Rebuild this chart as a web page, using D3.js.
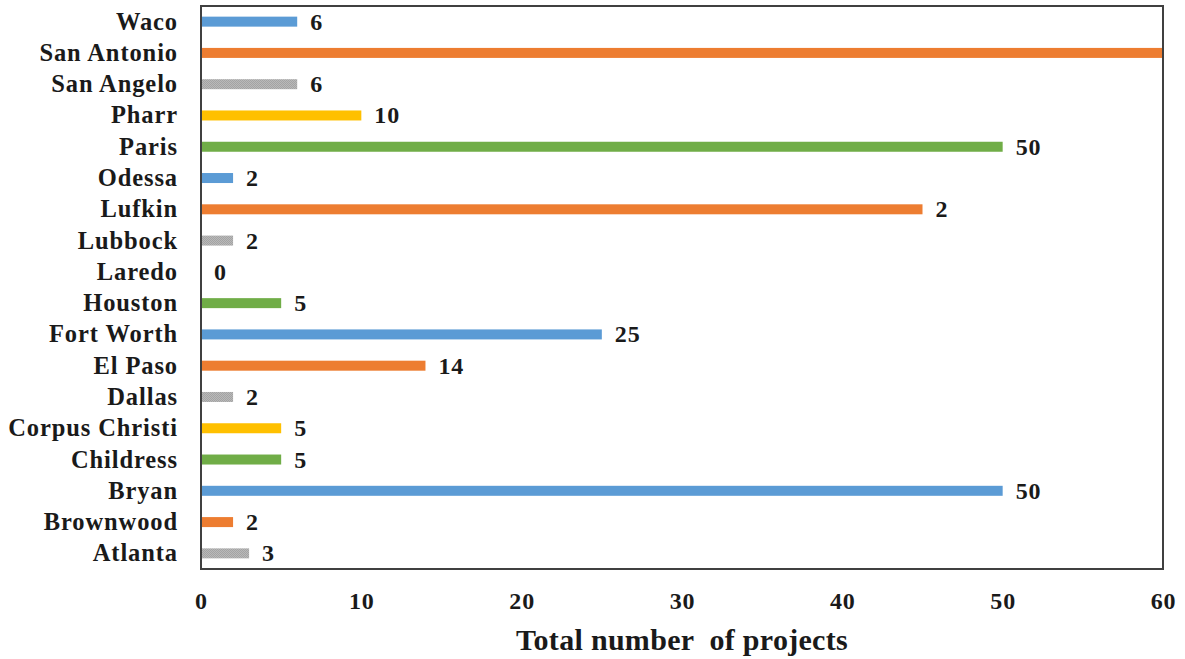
<!DOCTYPE html>
<html>
<head>
<meta charset="utf-8">
<script src="https://cdn.jsdelivr.net/npm/d3@7/dist/d3.min.js"></script>
<style>
  html, body { margin: 0; padding: 0; background: #fff; }
  svg { display: block; }
  text { font-family: "Liberation Serif", "Times New Roman", serif; font-weight: bold; fill: #1a1a1a; }
</style>
</head>
<body>
<svg id="chart" width="1185" height="659"></svg>
<script>
// Districts, top to bottom as drawn
const districts = ["Waco", "San Antonio", "San Angelo", "Pharr", "Paris", "Odessa", "Lufkin",
  "Lubbock", "Laredo", "Houston", "Fort Worth", "El Paso", "Dallas", "Corpus Christi",
  "Childress", "Bryan", "Brownwood", "Atlanta"];
// Bar lengths (total number of projects)
const projects = [6, 60, 6, 10, 50, 2, 45, 2, 0, 5, 25, 14, 2, 5, 5, 50, 2, 3];
// Value labels printed beside each bar (San Antonio has none inside the plot)
const valueLabels = ["6", null, "6", "10", "50", "2", "2", "2", "0", "5", "25", "14", "2", "5", "5", "50", "2", "3"];
// Bar fill per district
const barColors = ["#5b9bd5", "#ed7d31", "gray", "#ffc000", "#70ad47", "#5b9bd5", "#ed7d31",
  "gray", "#ffc000", "#70ad47", "#5b9bd5", "#ed7d31", "gray", "#ffc000",
  "#70ad47", "#5b9bd5", "#ed7d31", "gray"];
const xTicks = [0, 10, 20, 30, 40, 50, 60];
const xTitle = "Total number  of projects";

const svg = d3.select("#chart");
const margin = { left: 201, top: 6, right: 22, bottom: 90 };
const W = 1185, H = 659;
const pw = W - margin.left - margin.right;
const ph = H - margin.top - margin.bottom;
const serif = "'Liberation Serif', 'Times New Roman', serif";

// dithered grey fill
const defs = svg.append("defs");
const pat = defs.append("pattern").attr("id", "greyDots")
  .attr("width", 2).attr("height", 2).attr("patternUnits", "userSpaceOnUse");
pat.append("rect").attr("width", 2).attr("height", 2).attr("fill", "#a3a3a3");
pat.append("rect").attr("width", 1).attr("height", 1).attr("fill", "#b9b9b9");
pat.append("rect").attr("x", 1).attr("y", 1).attr("width", 1).attr("height", 1).attr("fill", "#b9b9b9");
defs.append("clipPath").attr("id", "plotClip")
  .append("rect").attr("width", pw).attr("height", ph);

const g = svg.append("g").attr("transform", `translate(${margin.left},${margin.top})`);

const x = d3.scaleLinear().domain([0, 60]).range([0, pw]);
const y = d3.scaleBand().domain(districts).range([0, ph]).paddingInner(0).paddingOuter(0);
const barH = 10;

const rows = districts.map((d, i) => ({ name: d, v: projects[i], label: valueLabels[i], color: barColors[i] }));

// bars
g.append("g").attr("clip-path", "url(#plotClip)")
  .selectAll("rect").data(rows).join("rect")
  .attr("x", x(0) + 1)
  .attr("y", d => y(d.name) + y.bandwidth() / 2 - barH / 2)
  .attr("width", d => Math.max(0, x(d.v) - x(0) - 1))
  .attr("height", barH)
  .attr("fill", d => d.color === "gray" ? "url(#greyDots)" : d.color);

// value labels
g.append("g").selectAll("text").data(rows.filter(d => d.label !== null)).join("text")
  .attr("x", d => x(d.v) + 13)
  .attr("y", d => y(d.name) + y.bandwidth() / 2 + 8)
  .attr("font-size", 24)
  .attr("letter-spacing", 0.8)
  .text(d => d.label);

// category axis labels
const yAxis = d3.axisLeft(y).tickSize(0).tickPadding(23);
const ya = g.append("g").call(yAxis);
ya.select(".domain").remove();
ya.selectAll("text")
  .attr("font-size", 24.5)
  .attr("letter-spacing", 0.9)
  .attr("dy", null)
  .attr("y", 8)
  .style("font-family", serif)
  .style("font-weight", "bold")
  .attr("fill", "#1a1a1a");

// value axis labels
const xAxis = d3.axisBottom(x).tickValues(xTicks).tickSize(0).tickPadding(0);
const xa = g.append("g").attr("transform", `translate(0,${ph})`).call(xAxis);
xa.select(".domain").remove();
xa.selectAll("text")
  .attr("font-size", 24)
  .attr("letter-spacing", 0.8)
  .attr("dy", null)
  .attr("y", 40)
  .style("font-family", serif)
  .style("font-weight", "bold")
  .attr("fill", "#1a1a1a");

// plot frame
g.append("rect")
  .attr("x", 0).attr("y", 0).attr("width", pw).attr("height", ph)
  .attr("fill", "none").attr("stroke", "#404040").attr("stroke-width", 2);

// axis title
svg.append("text")
  .attr("x", margin.left + pw / 2)
  .attr("y", 650)
  .attr("text-anchor", "middle")
  .attr("font-size", 30)
  .attr("letter-spacing", 0.3)
  .style("white-space", "pre")
  .text(xTitle);
</script>
</body>
</html>
